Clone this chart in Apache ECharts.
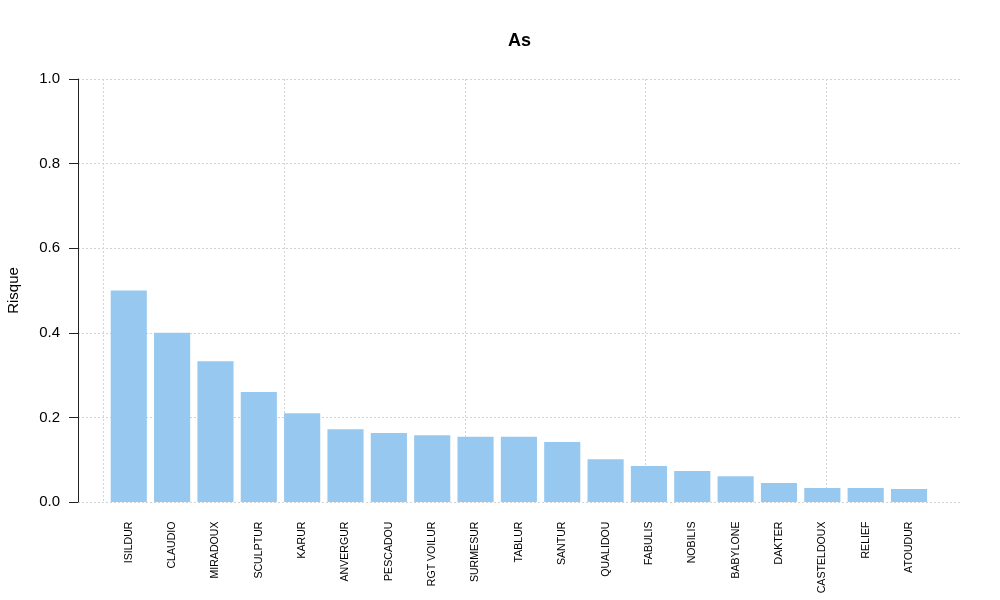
<!DOCTYPE html>
<html>
<head>
<meta charset="utf-8">
<script src="https://cdn.jsdelivr.net/npm/echarts@6/dist/echarts.min.js"></script>
<style>html,body{margin:0;padding:0;background:#fff}#c{width:1000px;height:600px}</style>
</head>
<body>
<div id="c"></div>
<script>
var categories = ["ISILDUR","CLAUDIO","MIRADOUX","SCULPTUR","KARUR","ANVERGUR","PESCADOU","RGT VOILUR","SURMESUR","TABLUR","SANTUR","QUALIDOU","FABULIS","NOBILIS","BABYLONE","DAKTER","CASTELDOUX","RELIEF","ATOUDUR"];
var risque = [0.500,0.400,0.333,0.260,0.210,0.172,0.163,0.158,0.154,0.154,0.142,0.101,0.085,0.073,0.061,0.045,0.033,0.033,0.031];
var yTicks = [0, 0.2, 0.4, 0.6, 0.8, 1.0];
var titleText = "As";
var yName = "Risque";

var chart = echarts.init(document.getElementById('c'), null, {renderer: 'canvas'});
var font = 'Liberation Sans, Arial, sans-serif';
var gridLine = {show: true, lineStyle: {color: '#d3d3d3', type: [2, 2], width: 1}};
chart.setOption({
  animation: false,
  backgroundColor: '#fff',
  title: {
    text: titleText, left: 503, top: 27,
    textStyle: {fontFamily: font, fontSize: 18, fontWeight: 'bold', color: '#000'}
  },
  grid: [
    {left: 78, right: 40, top: 79, bottom: 98, outerBoundsMode: 'none', containLabel: false},
    {left: 107.1, right: 69.3, top: 79, bottom: 98, outerBoundsMode: 'none', containLabel: false}
  ],
  xAxis: [
    {
      gridIndex: 0, type: 'value', min: -0.704, max: 23.704, splitNumber: 5,
      axisLine: {show: false, onZero: false}, axisTick: {show: false}, axisLabel: {show: false},
      splitLine: Object.assign({showMinLine: false, showMaxLine: false}, gridLine)
    },
    {
      gridIndex: 1, type: 'category', data: categories,
      axisLine: {show: false}, axisTick: {show: false},
      axisLabel: {rotate: 90, margin: 19.5, interval: 0, fontFamily: font, fontSize: 10.6, color: '#000'}
    }
  ],
  yAxis: [
    {
      gridIndex: 0, type: 'value', min: 0, max: 1, interval: 0.2,
      name: yName, nameLocation: 'middle', nameGap: 57,
      nameTextStyle: {fontFamily: font, fontSize: 15, color: '#000'},
      axisLine: {show: true, onZero: false, lineStyle: {color: '#222', width: 1}},
      axisTick: {show: true, length: 9, lineStyle: {color: '#222', width: 1}},
      axisLabel: {margin: 18, fontFamily: font, fontSize: 15, color: '#000',
        formatter: function (v) { return v.toFixed(1); },
        customValues: yTicks},
      splitLine: gridLine
    },
    {gridIndex: 1, type: 'value', min: 0, max: 1, show: false}
  ],
  series: [{
    type: 'bar', xAxisIndex: 1, yAxisIndex: 1, data: risque,
    barWidth: '83.33%',
    itemStyle: {color: '#96c8f0'}
  }]
});
</script>
</body>
</html>
